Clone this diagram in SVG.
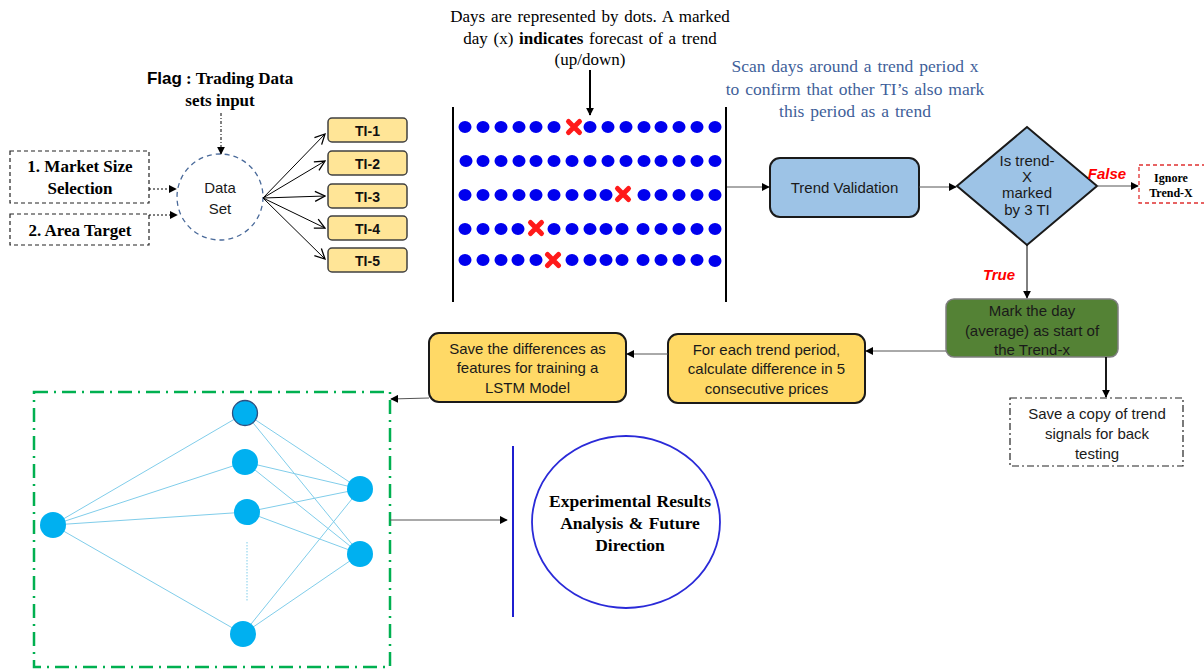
<svg xmlns="http://www.w3.org/2000/svg" xmlns:xlink="http://www.w3.org/1999/xlink" width="1204" height="669" viewBox="0 0 1204 669">
<defs>
<marker id="arr" viewBox="0 0 10 10" refX="9" refY="5" markerWidth="8" markerHeight="8" markerUnits="userSpaceOnUse" orient="auto">
<path d="M0,0 L10,5 L0,10 z" fill="#000"/>
</marker>
<marker id="chev" viewBox="0 0 12 12" refX="11" refY="6" markerWidth="12" markerHeight="12" markerUnits="userSpaceOnUse" orient="auto">
<path d="M1,1 L11,6 L1,11" fill="none" stroke="#000" stroke-width="1.3"/>
</marker>
<path id="xm" d="M-5.5,-5.5 L5.5,5.5 M5.5,-5.5 L-5.5,5.5" stroke="#FF1A1A" stroke-width="5" stroke-linecap="round"/>
</defs>
<style>
.serif{font-family:"Liberation Serif","Times New Roman",serif;}
.sans{font-family:"Liberation Sans",Arial,sans-serif;}
.bold{font-weight:bold;}
.dot{fill:#0000EE;}
.conn{stroke:#000;stroke-width:1;fill:none;}
.connG{stroke:#555;stroke-width:1;fill:none;}
.ti rect{fill:#FFE597;stroke:#404040;stroke-width:1.5;}
.ti text{font-family:"Liberation Sans",Arial,sans-serif;font-weight:bold;font-size:14px;text-anchor:middle;fill:#111;}
.nn line{stroke:#80CDEA;stroke-width:1;}
.nn circle{fill:#00B0F0;}
.btxt{font-family:"Liberation Sans",Arial,sans-serif;font-size:15px;text-anchor:middle;fill:#1a1a1a;}
</style>
<rect width="1204" height="669" fill="#fff"/>

<!-- Flag label -->
<g id="flag">
<text x="220" y="84" text-anchor="middle" font-size="17" class="bold"><tspan class="sans">Flag</tspan><tspan class="serif"> : Trading Data</tspan></text>
<text x="220" y="106" text-anchor="middle" font-size="17" class="serif bold">sets input</text>
</g>

<!-- Input boxes -->
<g id="market">
<rect x="10" y="151" width="139" height="52" fill="#fff" stroke="#222" stroke-width="1.2" stroke-dasharray="4 3"/>
<text x="80" y="172" text-anchor="middle" font-size="17" class="serif bold">1. Market Size</text>
<text x="80" y="194" text-anchor="middle" font-size="17" class="serif bold">Selection</text>
</g>
<g id="area">
<rect x="10" y="214" width="139" height="31" fill="#fff" stroke="#222" stroke-width="1.2" stroke-dasharray="4 3"/>
<text x="80" y="236" text-anchor="middle" font-size="17" class="serif bold">2. Area Target</text>
</g>

<!-- Data Set -->
<g id="dataset">
<circle cx="220" cy="197" r="43" fill="#fff" stroke="#4A6A9A" stroke-width="1.3" stroke-dasharray="5 4"/>
<text x="220" y="193" class="btxt">Data</text>
<text x="220" y="214" class="btxt">Set</text>
</g>

<!-- TI boxes -->
<g id="ti1" class="ti"><rect x="328" y="118" width="79" height="24" rx="4"/><text x="367.5" y="135.5">TI-1</text></g>
<g id="ti2" class="ti"><rect x="328" y="151" width="79" height="24" rx="4"/><text x="367.5" y="168.5">TI-2</text></g>
<g id="ti3" class="ti"><rect x="328" y="184" width="79" height="24" rx="4"/><text x="367.5" y="201.5">TI-3</text></g>
<g id="ti4" class="ti"><rect x="328" y="216" width="79" height="24" rx="4"/><text x="367.5" y="233.5">TI-4</text></g>
<g id="ti5" class="ti"><rect x="328" y="248" width="79" height="24" rx="4"/><text x="367.5" y="265.5">TI-5</text></g>

<!-- Top caption -->
<g id="caption">
<text x="590" y="22" text-anchor="middle" font-size="17" word-spacing="1.5" class="serif">Days are represented by dots. A marked</text>
<text x="590" y="44" text-anchor="middle" font-size="17" word-spacing="1.5" class="serif">day (x) <tspan class="bold">indicates</tspan> forecast of a trend</text>
<text x="590" y="65" text-anchor="middle" font-size="17" class="serif">(up/down)</text>
</g>

<!-- Dots panel -->
<g id="dots">
<line x1="453" y1="107" x2="453" y2="302" stroke="#000" stroke-width="2"/>
<line x1="726" y1="107" x2="726" y2="302" stroke="#000" stroke-width="2"/>
<g>
<ellipse class="dot" cx="465" cy="127" rx="6.5" ry="6"/><ellipse class="dot" cx="483" cy="127" rx="6.5" ry="6"/><ellipse class="dot" cx="501" cy="127" rx="6.5" ry="6"/><ellipse class="dot" cx="519" cy="127" rx="6.5" ry="6"/><ellipse class="dot" cx="536" cy="127" rx="6.5" ry="6"/><ellipse class="dot" cx="554" cy="127" rx="6.5" ry="6"/>
<use xlink:href="#xm" href="#xm" x="574" y="127"/>
<ellipse class="dot" cx="590" cy="127" rx="6.5" ry="6"/><ellipse class="dot" cx="608" cy="127" rx="6.5" ry="6"/><ellipse class="dot" cx="626" cy="127" rx="6.5" ry="6"/><ellipse class="dot" cx="644" cy="127" rx="6.5" ry="6"/><ellipse class="dot" cx="661" cy="127" rx="6.5" ry="6"/><ellipse class="dot" cx="679" cy="127" rx="6.5" ry="6"/><ellipse class="dot" cx="697" cy="127" rx="6.5" ry="6"/><ellipse class="dot" cx="715" cy="127" rx="6.5" ry="6"/>
</g>
<g>
<ellipse class="dot" cx="466" cy="161" rx="6.5" ry="6"/><ellipse class="dot" cx="483" cy="161" rx="6.5" ry="6"/><ellipse class="dot" cx="501" cy="161" rx="6.5" ry="6"/><ellipse class="dot" cx="519" cy="161" rx="6.5" ry="6"/><ellipse class="dot" cx="536" cy="161" rx="6.5" ry="6"/><ellipse class="dot" cx="554" cy="161" rx="6.5" ry="6"/><ellipse class="dot" cx="572" cy="161" rx="6.5" ry="6"/><ellipse class="dot" cx="590" cy="161" rx="6.5" ry="6"/><ellipse class="dot" cx="608" cy="161" rx="6.5" ry="6"/><ellipse class="dot" cx="626" cy="161" rx="6.5" ry="6"/><ellipse class="dot" cx="644" cy="161" rx="6.5" ry="6"/><ellipse class="dot" cx="661" cy="161" rx="6.5" ry="6"/><ellipse class="dot" cx="679" cy="161" rx="6.5" ry="6"/><ellipse class="dot" cx="697" cy="161" rx="6.5" ry="6"/><ellipse class="dot" cx="715" cy="161" rx="6.5" ry="6"/>
</g>
<g>
<ellipse class="dot" cx="465" cy="195" rx="6.5" ry="6"/><ellipse class="dot" cx="483" cy="195" rx="6.5" ry="6"/><ellipse class="dot" cx="501" cy="195" rx="6.5" ry="6"/><ellipse class="dot" cx="519" cy="195" rx="6.5" ry="6"/><ellipse class="dot" cx="536" cy="195" rx="6.5" ry="6"/><ellipse class="dot" cx="554" cy="195" rx="6.5" ry="6"/><ellipse class="dot" cx="572" cy="195" rx="6.5" ry="6"/><ellipse class="dot" cx="590" cy="195" rx="6.5" ry="6"/><ellipse class="dot" cx="606" cy="195" rx="6.5" ry="6"/>
<use xlink:href="#xm" href="#xm" x="623" y="194"/>
<ellipse class="dot" cx="644" cy="195" rx="6.5" ry="6"/><ellipse class="dot" cx="661" cy="195" rx="6.5" ry="6"/><ellipse class="dot" cx="679" cy="195" rx="6.5" ry="6"/><ellipse class="dot" cx="697" cy="195" rx="6.5" ry="6"/><ellipse class="dot" cx="715" cy="195" rx="6.5" ry="6"/>
</g>
<g>
<ellipse class="dot" cx="465" cy="229" rx="6.5" ry="6"/><ellipse class="dot" cx="483" cy="229" rx="6.5" ry="6"/><ellipse class="dot" cx="501" cy="229" rx="6.5" ry="6"/><ellipse class="dot" cx="518" cy="229" rx="6.5" ry="6"/>
<use xlink:href="#xm" href="#xm" x="536" y="228"/>
<ellipse class="dot" cx="554" cy="229" rx="6.5" ry="6"/><ellipse class="dot" cx="572" cy="229" rx="6.5" ry="6"/><ellipse class="dot" cx="590" cy="229" rx="6.5" ry="6"/><ellipse class="dot" cx="606" cy="229" rx="6.5" ry="6"/><ellipse class="dot" cx="622" cy="229" rx="6.5" ry="6"/><ellipse class="dot" cx="643" cy="229" rx="6.5" ry="6"/><ellipse class="dot" cx="661" cy="229" rx="6.5" ry="6"/><ellipse class="dot" cx="679" cy="229" rx="6.5" ry="6"/><ellipse class="dot" cx="697" cy="229" rx="6.5" ry="6"/><ellipse class="dot" cx="715" cy="229" rx="6.5" ry="6"/>
</g>
<g>
<ellipse class="dot" cx="465" cy="260" rx="6.5" ry="6"/><ellipse class="dot" cx="483" cy="260" rx="6.5" ry="6"/><ellipse class="dot" cx="501" cy="260" rx="6.5" ry="6"/><ellipse class="dot" cx="518" cy="260" rx="6.5" ry="6"/><ellipse class="dot" cx="536" cy="260" rx="6.5" ry="6"/>
<use xlink:href="#xm" href="#xm" x="553" y="260"/>
<ellipse class="dot" cx="572" cy="260" rx="6.5" ry="6"/><ellipse class="dot" cx="590" cy="260" rx="6.5" ry="6"/><ellipse class="dot" cx="606" cy="260" rx="6.5" ry="6"/><ellipse class="dot" cx="622" cy="260" rx="6.5" ry="6"/><ellipse class="dot" cx="643" cy="260" rx="6.5" ry="6"/><ellipse class="dot" cx="661" cy="260" rx="6.5" ry="6"/><ellipse class="dot" cx="679" cy="260" rx="6.5" ry="6"/><ellipse class="dot" cx="697" cy="260" rx="6.5" ry="6"/><ellipse class="dot" cx="715" cy="261" rx="6.5" ry="6"/>
</g>
</g>

<!-- Scan caption -->
<g id="scan">
<text x="855" y="72" text-anchor="middle" font-size="17.5" word-spacing="1.5" class="serif" fill="#3F5F9A">Scan days around a trend period x</text>
<text x="855" y="95" text-anchor="middle" font-size="17.5" word-spacing="1.5" class="serif" fill="#3F5F9A">to confirm that other TI’s also mark</text>
<text x="855" y="117" text-anchor="middle" font-size="17.5" word-spacing="1.5" class="serif" fill="#3F5F9A">this period as a trend</text>
</g>

<!-- Trend Validation -->
<g id="validation">
<rect x="770" y="158" width="149" height="59" rx="10" fill="#9DC3E6" stroke="#1a1a1a" stroke-width="2"/>
<text x="844.5" y="193" class="btxt">Trend Validation</text>
</g>

<!-- Decision -->
<g id="decision">
<polygon points="957,186 1027,127 1097,186 1027,245" fill="#9DC3E6" stroke="#1a1a1a" stroke-width="2"/>
<text x="1027" y="166" class="btxt" font-size="14">Is trend-</text>
<text x="1027" y="182" class="btxt" font-size="14">X</text>
<text x="1027" y="198" class="btxt" font-size="14">marked</text>
<text x="1027" y="215" class="btxt" font-size="14">by 3 TI</text>
</g>

<g id="ignore">
<rect x="1139" y="165" width="70" height="38" fill="#fff" stroke="#E03030" stroke-width="1.3" stroke-dasharray="4 3"/>
<text x="1171" y="182" text-anchor="middle" font-size="12" class="serif bold">Ignore</text>
<text x="1171" y="197" text-anchor="middle" font-size="12" class="serif bold">Trend-X</text>
</g>

<g id="labels">
<text x="1107" y="179" text-anchor="middle" font-size="15" class="sans bold" font-style="italic" fill="#FF0000">False</text>
<text x="999" y="280" text-anchor="middle" font-size="15" class="sans bold" font-style="italic" fill="#FF0000">True</text>
</g>

<!-- Mark the day -->
<g id="markday">
<rect x="946" y="299" width="172" height="58" rx="8" fill="#548235" stroke="#7F7F7F" stroke-width="1.5"/>
<text x="1032" y="316" class="btxt">Mark the day</text>
<text x="1032" y="336" class="btxt">(average) as start of</text>
<text x="1032" y="355" class="btxt">the Trend-x</text>
</g>

<!-- Save a copy -->
<g id="savecopy">
<rect x="1010" y="398" width="173" height="68" fill="#fff" stroke="#222" stroke-width="1.2" stroke-dasharray="7 3 2 3"/>
<text x="1097" y="419" class="btxt">Save a copy of trend</text>
<text x="1097" y="439" class="btxt">signals for back</text>
<text x="1097" y="459" class="btxt">testing</text>
</g>

<!-- For each trend -->
<g id="foreach">
<rect x="668" y="334" width="197" height="69" rx="10" fill="#FFD966" stroke="#1a1a1a" stroke-width="2"/>
<text x="766.5" y="355" class="btxt">For each trend period,</text>
<text x="766.5" y="374" class="btxt">calculate difference in 5</text>
<text x="766.5" y="394" class="btxt">consecutive prices</text>
</g>

<!-- Save differences -->
<g id="savediff">
<rect x="429" y="333" width="197" height="69" rx="10" fill="#FFD966" stroke="#1a1a1a" stroke-width="2"/>
<text x="527.5" y="354" class="btxt">Save the differences as</text>
<text x="527.5" y="373" class="btxt">features for training a</text>
<text x="527.5" y="393" class="btxt">LSTM Model</text>
</g>

<!-- LSTM network -->
<g id="lstm">
<rect x="34" y="392" width="356" height="275" fill="none" stroke="#00B050" stroke-width="2.5" stroke-dasharray="14 6 2 6"/>
<g class="nn">
<line x1="53" y1="525" x2="245" y2="413"/>
<line x1="53" y1="525" x2="245" y2="462"/>
<line x1="53" y1="525" x2="247" y2="512"/>
<line x1="53" y1="525" x2="243" y2="634"/>
<line x1="245" y1="413" x2="360" y2="489"/>
<line x1="245" y1="413" x2="360" y2="554"/>
<line x1="245" y1="462" x2="360" y2="489"/>
<line x1="245" y1="462" x2="360" y2="554"/>
<line x1="247" y1="512" x2="360" y2="489"/>
<line x1="247" y1="512" x2="360" y2="554"/>
<line x1="243" y1="634" x2="360" y2="489"/>
<line x1="243" y1="634" x2="360" y2="554"/>
<line x1="247" y1="542" x2="247" y2="602" stroke-dasharray="1.5 1.5" stroke-width="1.5"/>
<circle cx="53" cy="525" r="13"/>
<circle cx="245" cy="413" r="12.5" stroke="#2F4F7F" stroke-width="1.3"/>
<circle cx="245" cy="462" r="13"/>
<circle cx="247" cy="512" r="13"/>
<circle cx="243" cy="634" r="13"/>
<circle cx="360" cy="489" r="13"/>
<circle cx="360" cy="554" r="13"/>
</g>
</g>

<!-- Results -->
<g id="results">
<line x1="513" y1="446" x2="513" y2="617" stroke="#1F1FD0" stroke-width="2"/>
<ellipse cx="626" cy="522" rx="94" ry="86" fill="#fff" stroke="#2A2AD8" stroke-width="1.8"/>
<text x="630" y="507" text-anchor="middle" font-size="17.5" word-spacing="1" class="serif bold">Experimental Results</text>
<text x="630" y="529" text-anchor="middle" font-size="17.5" word-spacing="1" class="serif bold">Analysis &amp; Future</text>
<text x="630" y="551" text-anchor="middle" font-size="17.5" class="serif bold">Direction</text>
</g>

<!-- Connectors -->
<g id="connectors">
<line x1="221" y1="113" x2="221" y2="154" class="conn" stroke-dasharray="3 2 1 2" marker-end="url(#arr)"/>
<line x1="149" y1="189" x2="176" y2="189" class="conn" stroke-dasharray="2 2" marker-end="url(#arr)"/>
<line x1="149" y1="215" x2="177" y2="215" class="conn" stroke-dasharray="2 2" marker-end="url(#arr)"/>
<line x1="263" y1="198" x2="325" y2="134" class="conn" marker-end="url(#chev)"/>
<line x1="263" y1="198" x2="325" y2="161" class="conn" marker-end="url(#chev)"/>
<line x1="263" y1="198" x2="325" y2="196" class="conn" marker-end="url(#chev)"/>
<line x1="263" y1="198" x2="325" y2="228" class="conn" marker-end="url(#chev)"/>
<line x1="263" y1="198" x2="325" y2="259" class="conn" marker-end="url(#chev)"/>
<line x1="590" y1="70" x2="590" y2="115" stroke="#000" stroke-width="2" marker-end="url(#arr)"/>
<line x1="727" y1="187" x2="769" y2="187" class="connG" marker-end="url(#arr)"/>
<line x1="919" y1="187" x2="956" y2="187" class="connG" marker-end="url(#arr)"/>
<line x1="1097" y1="186" x2="1138" y2="186" class="connG" marker-end="url(#arr)"/>
<line x1="1027" y1="245" x2="1027" y2="298" class="conn" marker-end="url(#arr)"/>
<line x1="1106" y1="357" x2="1106" y2="397" stroke="#000" stroke-width="1.8" marker-end="url(#arr)"/>
<line x1="946" y1="351" x2="866" y2="351" class="connG" marker-end="url(#arr)"/>
<line x1="668" y1="354" x2="627" y2="354" class="connG" marker-end="url(#arr)"/>
<line x1="429" y1="398" x2="391" y2="399" class="connG" marker-end="url(#arr)"/>
<line x1="390" y1="520" x2="507" y2="520" class="connG" marker-end="url(#arr)"/>
</g>
</svg>
